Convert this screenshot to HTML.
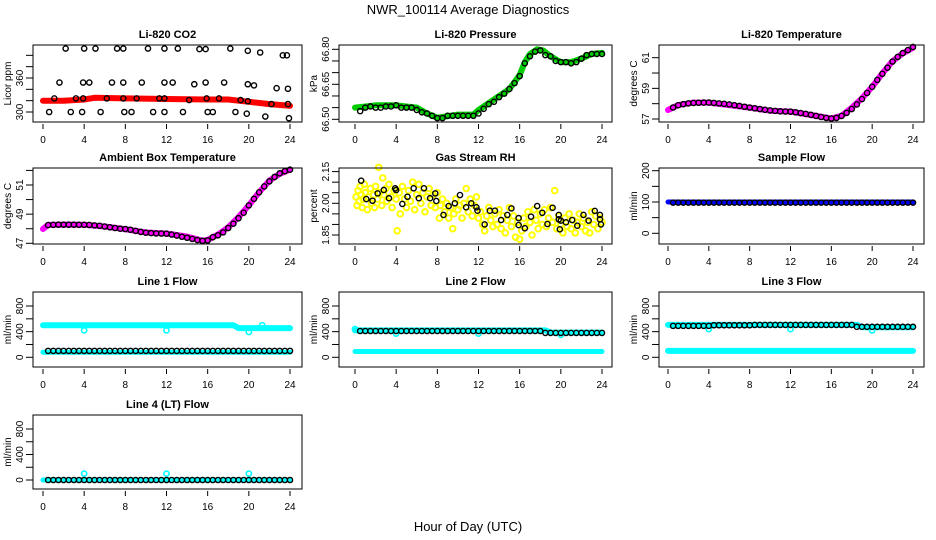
<!DOCTYPE html>
<html><head><meta charset="utf-8">
<style>
html,body{margin:0;padding:0;background:#fff;}
svg{display:block;font-family:"Liberation Sans",sans-serif;}
</style></head>
<body>
<svg id="chart" width="936" height="540" viewBox="0 0 936 540">
<text x="468" y="14" text-anchor="middle" font-size="13">NWR_100114  Average Diagnostics</text>
<text x="468" y="531" text-anchor="middle" font-size="13">Hour of Day (UTC)</text>
</svg>
<script>
// ---------- data ----------
const xTicks = [0,4,8,12,16,20,24];
const halfHours = [0.5,1,1.5,2,2.5,3,3.5,4,4.5,5,5.5,6,6.5,7,7.5,8,8.5,9,9.5,10,10.5,11,11.5,12,12.5,13,13.5,14,14.5,15,15.5,16,16.5,17,17.5,18,18.5,19,19.5,20,20.5,21,21.5,22,22.5,23,23.5,24];

// CO2
const co2BandHours = [0,2,4,5,8,12,16,18,19,20,22,24];
const co2BandValues = [320,320,322,325,324,323,322,322,320,318,314,311];
const co2PtHours = [0.6,1.1,1.6,2.2,2.7,3.2,3.8,3.9,3.9,4.0,4.5,5.1,5.6,6.2,6.7,7.2,7.8,7.8,7.8,7.9,8.6,9.1,9.6,10.2,10.7,11.3,11.8,11.8,11.8,11.8,12.6,13.1,13.6,14.2,14.7,15.2,15.8,15.8,15.9,16.0,16.5,17.1,17.6,18.2,18.7,19.2,19.8,19.9,19.9,19.9,20.5,21.1,21.6,22.2,22.7,23.3,23.7,23.8,23.8,23.9];
const co2PtValues = [300,324,352,412,300,324,300,324,352,412,352,412,300,324,352,412,412,352,324,300,300,324,352,412,300,324,412,352,324,300,352,412,300,321,349,411,411,352,324,300,300,324,352,412,300,321,297,319,349,408,347,405,292,314,342,400,400,341,314,289];

// Pressure
const presBandHours = [0,2,4,6,7,8,10,11.5,12,13,14,15,16,16.5,17,17.7,18.3,19,20,21,22,23,24];
const presBandValues = [66.55,66.56,66.56,66.55,66.525,66.507,66.52,66.52,66.54,66.57,66.60,66.63,66.69,66.745,66.78,66.80,66.795,66.77,66.745,66.745,66.76,66.78,66.785];
const presPtValues = [66.535,66.55,66.555,66.55,66.55,66.555,66.555,66.56,66.55,66.55,66.55,66.54,66.53,66.525,66.515,66.505,66.505,66.515,66.515,66.515,66.515,66.515,66.515,66.525,66.545,66.565,66.575,66.595,66.61,66.63,66.655,66.685,66.74,66.77,66.79,66.795,66.775,66.77,66.75,66.745,66.745,66.74,66.745,66.76,66.775,66.78,66.78,66.78];

// Li-820 temperature
const ltBandHours = [0,1,2.5,4,6,8,10,12,14,16,17,18,19,20,21,22,23,24];
const ltBandValues = [57.59,57.91,58.07,58.07,57.91,57.74,57.54,57.48,57.26,57.04,57.2,57.74,58.35,59.1,59.98,60.78,61.28,61.65];
const ltPtValues = [57.75,57.9,57.97,58.02,58.05,58.06,58.07,58.07,58.05,58.02,57.99,57.95,57.9,57.85,57.8,57.75,57.7,57.65,57.6,57.56,57.53,57.5,57.49,57.48,57.44,57.39,57.33,57.27,57.2,57.13,57.07,57.03,57.07,57.2,57.4,57.65,57.95,58.3,58.7,59.1,59.55,59.95,60.35,60.75,61.05,61.3,61.5,61.7];

// Ambient box temperature
const abBandHours = [0,0.5,2,4,6,8,10,12,14,15.5,16,17,18,19,20,21,22,23,24];
const abBandValues = [47.98,48.26,48.28,48.27,48.15,47.97,47.74,47.67,47.46,47.18,47.23,47.6,48.1,48.8,49.6,50.5,51.3,51.76,52.06];
const abPtValues = [48.25,48.27,48.28,48.28,48.28,48.28,48.27,48.27,48.26,48.23,48.2,48.15,48.1,48.05,48.0,47.98,47.93,47.85,47.78,47.73,47.7,47.68,47.67,47.66,47.6,47.53,47.45,47.38,47.3,47.22,47.17,47.2,47.42,47.55,47.75,48.05,48.35,48.72,49.1,49.6,50.05,50.5,50.9,51.25,51.55,51.8,51.95,52.05];

// Gas stream RH
const rhYellowHours = [0.1,0.2,0.3,0.4,0.5,0.6,0.7,0.8,0.9,1.0,1.2,1.3,1.5,1.6,1.8,1.9,2.0,2.2,2.3,2.4,2.6,2.7,2.8,3.0,3.1,3.3,3.5,3.6,3.8,4.0,4.1,4.3,4.4,4.6,4.8,5.0,5.2,5.4,5.6,5.8,6.0,6.2,6.4,6.6,6.8,7.0,7.2,7.4,7.6,7.8,8.0,8.2,8.3,8.5,8.7,8.9,9.1,9.3,9.5,9.6,9.8,10.0,10.2,10.4,10.6,10.8,11.0,11.2,11.4,11.6,11.8,12.0,12.2,12.4,12.6,12.8,13.0,13.2,13.4,13.6,13.8,14.0,14.2,14.4,14.6,14.8,15.0,15.2,15.4,15.6,15.8,16.0,16.2,16.4,16.6,16.8,17.0,17.2,17.4,17.6,17.8,18.0,18.2,18.4,18.6,18.8,19.0,19.2,19.4,19.6,19.8,20.0,20.2,20.4,20.6,20.8,21.0,21.2,21.4,21.6,21.8,22.0,22.2,22.4,22.6,22.8,23.0,23.2,23.4,23.6,23.8,24.0];
const rhYellowValues = [2.03,1.99,2.06,2.01,2.08,2.04,1.98,2.02,2.09,2.05,1.97,2.03,2.07,2.00,2.04,1.98,2.08,2.02,2.17,2.05,1.99,2.12,2.04,2.07,2.01,2.09,2.03,1.98,2.06,2.02,1.87,2.05,1.95,2.08,2.02,1.98,2.06,2.01,2.10,1.97,2.04,2.09,2.00,2.05,1.96,2.03,2.07,1.99,2.04,1.98,2.05,1.93,1.99,2.02,1.96,2.00,1.93,1.98,1.88,1.95,2.02,1.97,1.99,1.93,2.00,2.07,1.96,2.02,1.94,1.99,2.03,1.93,1.96,1.90,1.87,1.94,1.98,1.92,1.89,1.95,1.90,1.97,1.88,1.94,1.86,1.92,1.98,1.89,1.94,1.84,1.91,1.83,1.87,1.93,1.89,1.96,1.91,1.85,1.97,1.92,1.88,1.95,1.90,1.97,1.89,1.93,1.98,1.91,2.06,1.88,1.94,1.90,1.86,1.93,1.89,1.95,1.88,1.92,1.86,1.91,1.95,1.89,1.93,1.87,1.91,1.86,1.96,1.90,1.94,1.88,1.93,1.91];
const rhBlackHours = [0.6,1.1,1.7,2.2,2.8,3.3,3.9,4.0,4.6,5.1,5.7,6.2,6.7,7.3,7.8,7.9,8.6,9.1,9.7,10.2,10.8,11.3,11.8,11.9,12.6,13.1,13.6,14.2,14.8,15.2,15.9,15.9,16.5,17.1,17.7,18.2,18.7,19.2,19.8,19.8,19.9,20.0,20.5,21.1,21.6,22.2,22.7,23.3,23.8,23.8,23.9];
const rhBlackValues = [2.107,2.02,2.012,2.047,2.063,2.024,2.071,2.063,1.997,2.031,2.071,2.024,2.071,2.024,2.047,2.011,1.945,1.987,2.0,2.039,1.981,2.0,1.981,1.965,1.90,1.965,1.965,1.921,1.945,1.976,1.93,1.897,1.882,1.937,1.987,1.955,1.902,1.979,1.945,1.924,1.877,1.918,1.91,1.921,1.894,1.945,1.918,1.964,1.945,1.924,1.90];

// Sample flow
const sfBandHours = [0,24];
const sfBandValues = [100,100];
const sfPtValues = [98,98,98,98,98,98,98,98,98,98,98,98,98,98,98,98,98,98,98,98,98,98,98,98,98,98,98,98,98,98,98,98,98,98,98,98,98,98,98,98,98,98,98,98,98,98,98,98];

// Line flows
const l1UpperHours = [0,18.5,19,24];
const l1UpperValues = [500,500,455,455];
const l1LowerHours = [0,24];
const l1LowerValues = [80,80];
const l1DipHours = [4,12,20,21.3];
const l1DipValues = [420,420,395,500];
const l1PtValues = [100,100,100,100,100,100,100,100,100,100,100,100,100,100,100,100,100,100,100,100,100,100,100,100,100,100,100,100,100,100,100,100,100,100,100,100,100,100,100,100,100,100,100,100,100,100,100,100];

const l2UpperHours = [0,18.5,19,24];
const l2UpperValues = [420,420,385,385];
const l2LowerHours = [0,24];
const l2LowerValues = [90,90];
const l2DipHours = [4,12,20,0];
const l2DipValues = [370,370,350,440];
const l2PtValues = [410,410,410,410,410,410,410,410,410,410,410,410,410,410,410,410,410,410,410,410,410,410,410,410,410,410,410,410,410,410,410,410,410,410,410,410,380,380,380,380,380,380,380,380,380,380,380,380];

const l3UpperHours = [0,18.5,19,24];
const l3UpperValues = [505,505,470,470];
const l3LowerHours = [0,24];
const l3LowerValues = [100,100];
const l3DipHours = [4,12,20];
const l3DipValues = [440,440,420];
const l3PtValues = [490,490,490,490,490,490,490,490,500,500,500,500,500,500,500,500,505,505,505,505,505,505,505,505,505,505,505,505,505,505,505,505,505,505,505,505,475,475,475,475,475,475,475,475,475,475,475,475];

const l4LineHours = [0,24];
const l4LineValues = [0,0];
const l4DipHours = [4,12,20];
const l4DipValues = [100,100,100];
const l4PtValues = [0,0,0,0,0,0,0,0,0,0,0,0,0,0,0,0,0,0,0,0,0,0,0,0,0,0,0,0,0,0,0,0,0,0,0,0,0,0,0,0,0,0,0,0,0,0,0,0];

// ---------- drawing ----------
const svg = document.getElementById('chart');
const NS = 'http://www.w3.org/2000/svg';
function mk(tag, attrs, parent){ const e=document.createElementNS(NS,tag); for(const k in attrs) e.setAttribute(k,attrs[k]); (parent||svg).appendChild(e); return e; }

function panel(name, box, xa, ya, yTicks, yLabels, title, yTitle){
  const g = mk('g',{});
  
  
  const [x1,y1,x2,y2] = box;
  const sx = h => xa[0] + (xa[1]-xa[0])*h/24;
  const sy = v => ya[1] + (ya[3]-ya[1])*(v-ya[0])/(ya[2]-ya[0]);
  const t = mk('text',{x:(x1+x2)/2,y:y1-7,'text-anchor':'middle','font-size':11,'font-weight':'bold'},g);
  t.textContent = title;
  
  
  xTicks.forEach(h=>{
    mk('line',{x1:sx(h),x2:sx(h),y1:y2+2,y2:y2+7,stroke:'#000','stroke-width':1},g);
    const l = mk('text',{x:sx(h),y:y2+21,'text-anchor':'middle','font-size':10},g);
    l.textContent = h;
    
    
  });
  yTicks.forEach(v=>{
    const y = sy(v);
    mk('line',{x1:x1-7,x2:x1,y1:y,y2:y,stroke:'#000','stroke-width':1},g);
  });
  yLabels.forEach(v=>{
    const y = sy(v);
    const l = mk('text',{x:0,y:0,'text-anchor':'middle','font-size':10,transform:`translate(${x1-10},${y}) rotate(-90)`},g);
    l.textContent = v;
    
    
  });
  const yt = mk('text',{x:0,y:0,'text-anchor':'middle','font-size':10,transform:`translate(${x1-22},${(y1+y2)/2}) rotate(-90)`},g);
  yt.textContent = yTitle;
  
  
  const plot = mk('g',{},g);
  mk('rect',{x:x1,y:y1,width:x2-x1,height:y2-y1,fill:'none',stroke:'#000','stroke-width':1},g);
  return {sx,sy,g:plot,box};
}
function band(p, hours, vals, color, w, name){
  const pts = hours.map((h,i)=>p.sx(h).toFixed(1)+','+p.sy(vals[i]).toFixed(1)).join(' ');
  const e = mk('polyline',{points:pts,fill:'none',stroke:color,'stroke-width':w,'stroke-linejoin':'round','stroke-linecap':'round'},p.g);
  
  
}
function pts(p, hours, vals, color, r, sw, name){
  hours.forEach((h,i)=>{
    const c = mk('circle',{cx:p.sx(h),cy:p.sy(vals[i]),r:r,fill:'none',stroke:color,'stroke-width':sw},p.g);
    
    
  });
}
const C1=[33,302,43,290], C2=[339,612,355,602], C3=[659,924,668,913];
const R1=[45,122], R2=[168,244], R3=[292,367], R4=[415,489];
function B(c,r){return [c[0],r[0],c[1],r[1]];}

// CO2
let p = panel('co2-panel', B(C1,R1), [C1[2],C1[3]], [300,112,360,78], [300,320,340,360,380,400], [300,360], 'Li-820 CO2', 'Licor ppm');
band(p, co2BandHours, co2BandValues, '#f00', 6, 'co2-band');
pts(p, co2PtHours, co2PtValues, '#000', 2.6, 1.4, 'co2-point');

// Pressure
p = panel('pressure-panel', B(C2,R1), [C2[2],C2[3]], [66.5,119.3,66.8,49.3], [66.5,66.55,66.6,66.65,66.7,66.75,66.8], ['66.50','66.65','66.80'], 'Li-820 Pressure', 'kPa');
band(p, presBandHours, presBandValues, '#00cc00', 6, 'pressure-band');
pts(p, halfHours, presPtValues, '#000', 2.6, 1.4, 'pressure-point');

// Li-820 Temp
p = panel('licor-temp-panel', B(C3,R1), [C3[2],C3[3]], [57,119,61,57.7], [57,58,59,60,61], [57,59,61], 'Li-820 Temperature', 'degrees C');
band(p, ltBandHours, ltBandValues, '#ff00ff', 6, 'licor-temp-band');
pts(p, halfHours, ltPtValues, '#000', 2.6, 1.4, 'licor-temp-point');

// Ambient
p = panel('ambient-temp-panel', B(C1,R2), [C1[2],C1[3]], [47,243.3,51,185], [47,48,49,50,51,52], [47,49,51], 'Ambient Box Temperature', 'degrees C');
band(p, abBandHours, abBandValues, '#ff00ff', 6, 'ambient-temp-band');
pts(p, halfHours, abPtValues, '#000', 2.6, 1.4, 'ambient-temp-point');

// RH
p = panel('rh-panel', B(C2,R2), [C2[2],C2[3]], [1.85,235,2.15,171.6], [1.85,1.9,1.95,2.0,2.05,2.1,2.15], ['1.85','2.00','2.15'], 'Gas Stream RH', 'percent');
pts(p, rhYellowHours, rhYellowValues, '#ffff00', 2.8, 2, 'rh-yellow-point');
pts(p, rhBlackHours, rhBlackValues, '#000', 2.6, 1.4, 'rh-black-point');

// Sample flow
p = panel('sample-flow-panel', B(C3,R2), [C3[2],C3[3]], [0,233.3,200,170.7], [0,50,100,150,200], [0,100,200], 'Sample Flow', 'ml/min');
band(p, sfBandHours, sfBandValues, '#0000ff', 5, 'sample-flow-band');
pts(p, halfHours, sfPtValues, '#000', 2.6, 1.4, 'sample-flow-point');

// Line 1
p = panel('line1-flow-panel', B(C1,R3), [C1[2],C1[3]], [0,357.3,800,306], [0,200,400,600,800], [0,400,800], 'Line 1 Flow', 'ml/min');
band(p, l1UpperHours, l1UpperValues, '#00ffff', 6, 'line1-upper-band');
band(p, l1LowerHours, l1LowerValues, '#00ffff', 5, 'line1-lower-band');
pts(p, l1DipHours, l1DipValues, '#00ffff', 2.6, 1.6, 'line1-dip-point');
pts(p, halfHours, l1PtValues, '#000', 2.6, 1.4, 'line1-point');

// Line 2
p = panel('line2-flow-panel', B(C2,R3), [C2[2],C2[3]], [0,357.3,800,306], [0,200,400,600,800], [0,400,800], 'Line 2 Flow', 'ml/min');
band(p, l2UpperHours, l2UpperValues, '#00ffff', 6, 'line2-upper-band');
band(p, l2LowerHours, l2LowerValues, '#00ffff', 5, 'line2-lower-band');
pts(p, l2DipHours, l2DipValues, '#00ffff', 2.6, 1.6, 'line2-dip-point');
pts(p, halfHours, l2PtValues, '#000', 2.6, 1.4, 'line2-point');

// Line 3
p = panel('line3-flow-panel', B(C3,R3), [C3[2],C3[3]], [0,357.3,800,306], [0,200,400,600,800], [0,400,800], 'Line 3 Flow', 'ml/min');
band(p, l3UpperHours, l3UpperValues, '#00ffff', 6, 'line3-upper-band');
band(p, l3LowerHours, l3LowerValues, '#00ffff', 6, 'line3-lower-band');
pts(p, l3DipHours, l3DipValues, '#00ffff', 2.6, 1.6, 'line3-dip-point');
pts(p, halfHours, l3PtValues, '#000', 2.6, 1.4, 'line3-point');

// Line 4
p = panel('line4-flow-panel', B(C1,R4), [C1[2],C1[3]], [0,480,800,429], [0,200,400,600,800], [0,400,800], 'Line 4 (LT) Flow', 'ml/min');
band(p, l4LineHours, l4LineValues, '#00ffff', 5, 'line4-band');
pts(p, l4DipHours, l4DipValues, '#00ffff', 2.6, 1.6, 'line4-dip-point');
pts(p, halfHours, l4PtValues, '#000', 2.6, 1.4, 'line4-point');
</script>
</body></html>
